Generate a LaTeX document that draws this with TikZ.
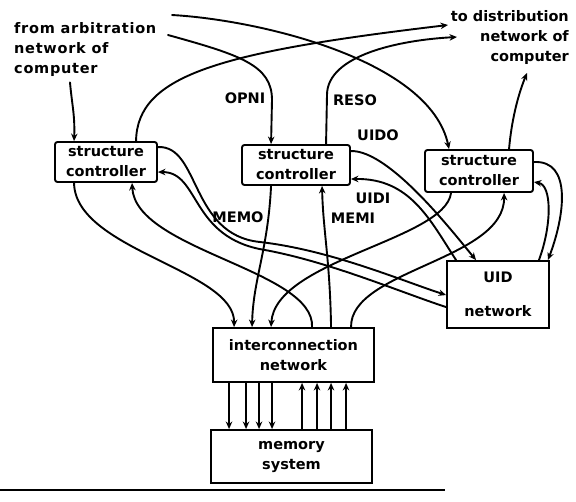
\documentclass[tikz,border=0pt]{standalone}
\usepackage{fontspec}
\setmainfont{DejaVu Sans}
\usetikzlibrary{arrows.meta,calc}
\newcommand{\lblfont}{\fontsize{14.5}{20}\selectfont\bfseries}
\newcommand{\outerfont}{\fontsize{14.5}{20}\selectfont\bfseries\addfontfeature{LetterSpace=5}}
\begin{document}
\begin{tikzpicture}[x=1pt,y=-1pt,
  wire/.style={line width=1.9pt, line cap=round, line join=round},
  arr/.style={wire, -{Stealth[length=7.5pt,width=6.5pt]}},
  box/.style={draw, line width=1.9pt, inner sep=0pt, align=center, font=\lblfont},
  ctrl/.style={box, rounded corners=2.5pt},
  txt/.style={font=\lblfont, inner sep=0pt},
]
\useasboundingbox (0,0) rectangle (576,501);

% boxes
\node[ctrl, minimum width=102pt, minimum height=40pt] (sc1) at (106,162) {structure\\controller};
\node[ctrl, minimum width=108pt, minimum height=40pt] (sc2) at (296,165) {structure\\controller};
\node[ctrl, minimum width=108pt, minimum height=42pt] (sc3) at (479,171) {structure\\controller};
\node[box, minimum width=102pt, minimum height=67pt] (uid) at (498,294.5) {UID\\[14pt]network};
\node[box, minimum width=161pt, minimum height=54pt] (icn) at (293.5,355) {interconnection\\network};
\node[box, minimum width=161pt, minimum height=53pt] (mem) at (291.5,456.5) {memory\\system};

% outside texts
\node[txt, font=\outerfont, align=left, anchor=north west] (arb) at (14,22) {from arbitration\\network of\\computer};
\node[txt, align=right, anchor=north east] (dist) at (569,10) {to distribution\\network of\\computer};

% signal labels
\node[txt] (opni) at (245,98) {OPNI};
\node[txt] (reso) at (355,100) {RESO};
\node[txt] (uido) at (378,135) {UIDO};
\node[txt] (memo) at (238,217) {MEMO};
\node[txt] (uidi) at (373,198) {UIDI};
\node[txt] (memi) at (353,218) {MEMI};

% free ends at the outside texts
\coordinate (arbA) at (172,15);
\coordinate (arbB) at (168,35);
\coordinate (distA) at (448,25);
\coordinate (distB) at (457,37);
\coordinate (distC) at (527,73);

% arbitration / distribution links
\draw[arr] ([xshift=56pt,yshift=-6pt]arb.south west) .. controls (72,105) and (75,115) .. ([xshift=20pt]sc1.north west);
\draw[arr] (arbA) .. controls (260,20) and (430,60) .. ([xshift=25pt]sc3.north west);
\draw[arr] (arbB) .. controls (240,55) and (272,65) .. (272,100) -- ([xshift=30pt]sc2.north west);
\draw[arr] ([xshift=82pt]sc1.north west) .. controls (137,75) and (220,52) .. (distA);
\draw[arr] ([xshift=85pt]sc2.north west) -- (327,95) .. controls (327,55) and (400,40) .. (distB);
\draw[arr] ([xshift=85pt]sc3.north west) .. controls (512,115) and (520,90) .. (distC);

% controllers <-> interconnection network
\draw[arr] ([xshift=20pt]sc1.south west) .. controls (75,250) and (235,270) .. ([xshift=22pt]icn.north west);
\draw[arr] ([xshift=100pt]icn.north west) .. controls (315,270) and (135,250) .. ([xshift=78pt]sc1.south west);
\draw[arr] ([xshift=30pt]sc2.south west) .. controls (268,250) and (253,280) .. ([xshift=40pt]icn.north west);
\draw[arr] ([xshift=119pt]icn.north west) .. controls (330,260) and (323,230) .. ([xshift=81pt]sc2.south west);
\draw[arr] ([xshift=27pt]sc3.south west) .. controls (445,240) and (275,260) .. ([xshift=59pt]icn.north west);
\draw[arr] ([xshift=139pt]icn.north west) .. controls (350,270) and (505,260) .. ([xshift=80pt]sc3.south west);

% controllers <-> UID network
\draw[arr] ([yshift=-6pt]sc1.north east) .. controls (200,145) and (190,235) .. (260,242)
  .. controls (330,250) and (400,280) .. ([yshift=-35pt]uid.north west);
\draw[arr] ([yshift=-47pt]uid.north west) .. controls (400,292) and (330,262) .. (265,250)
  .. controls (190,238) and (200,172) .. ([yshift=-31pt]sc1.north east);
\draw[arr] ([yshift=-7pt]sc2.north east) .. controls (390,150) and (455,235) .. ([xshift=30pt]uid.north west);
\draw[arr] ([xshift=10pt]uid.north west) .. controls (430,220) and (410,178) .. ([yshift=-35pt]sc2.north east);
\draw[arr] ([yshift=-13pt]sc3.north east) .. controls (572,160) and (565,215) .. ([xshift=-2pt]uid.north east);
\draw[arr] ([xshift=-11pt]uid.north east) .. controls (552,225) and (552,185) .. ([yshift=-33pt]sc3.north east);

% interconnection network <-> memory system
\foreach \dx in {17,34,47,60}
  \draw[arr] ([xshift=\dx pt]icn.south west) coordinate (p) -- (p |- mem.north);
\foreach \dx in {92,107,121,136}
  \draw[arr] ([xshift=\dx pt]mem.north west) coordinate (p) -- (p |- icn.south);

% rule under the figure
\draw[line width=1.9pt] (0,490) -- (445,490);
\end{tikzpicture}
\end{document}
